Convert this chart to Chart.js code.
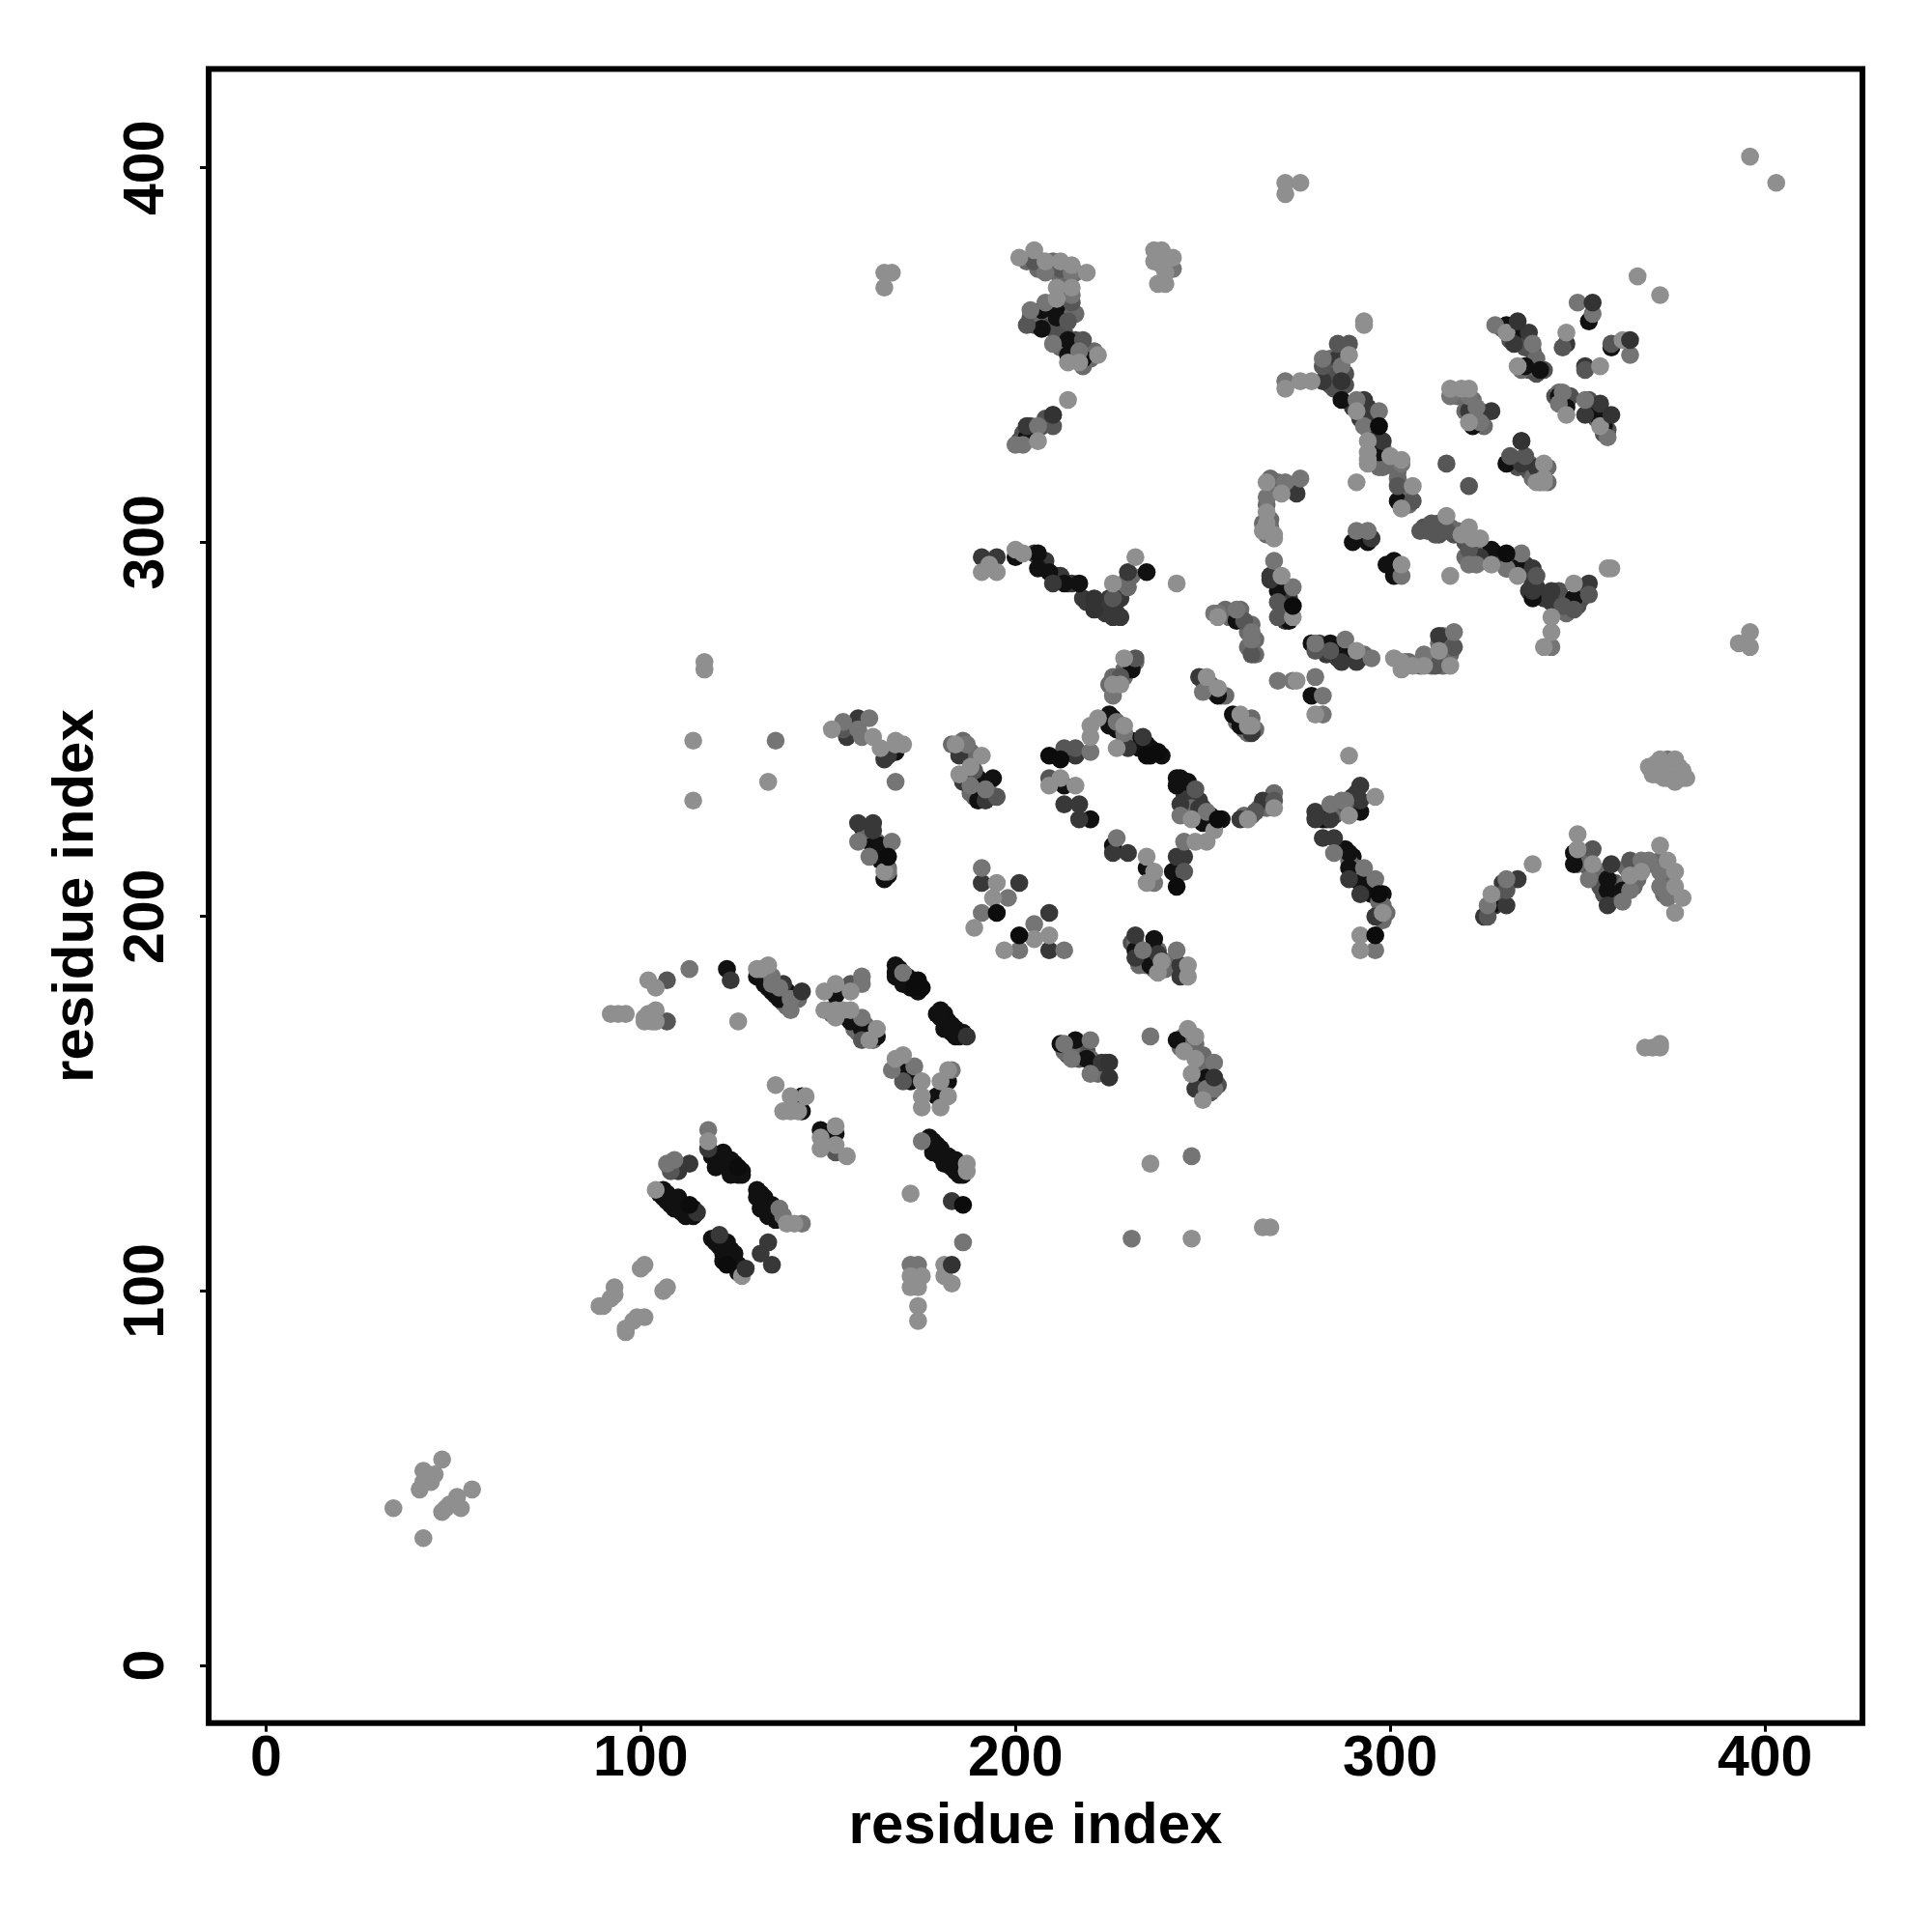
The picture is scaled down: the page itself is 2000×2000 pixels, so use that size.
<!DOCTYPE html>
<html>
<head>
<meta charset="utf-8">
<title>residue contacts</title>
<script src="https://cdn.jsdelivr.net/npm/chart.js@4/dist/chart.umd.min.js"></script>
<style>
    body { margin: 0; background: #fff; }
    canvas { display: block; }
</style>
</head>
<body>
<canvas id="contact-chart" width="2000" height="2000"></canvas>
<script>
var tickValues = [0, 100, 200, 300, 400];
var xLabel = "residue index";
var yLabel = "residue index";

// residue pairs [i, j], grouped by grey level, drawn dark to light
var blackPts = [[123,186],[133,184],[133,182],[135,180],[137,178],[139,180],[152,179],[156,172],[159,170],[163,168],[168,184],[168,187],[170,182],[180,175],[180,173],[181,170],[184,168],[169,159],[172,156],[182,156],[179,152],[178,140],[178,137],[181,134],[183,133],[186,131],[106,127],[107,126],[107,124],[110,125],[109,122],[112,120],[122,137],[120,133],[124,135],[124,131],[132,126],[131,125],[132,122],[134,120],[120,113],[123,113],[122,110],[125,110],[143,152],[143,148],[148,143],[152,142],[168,244],[162,219],[164,219],[164,215],[166,211],[190,237],[194,237],[190,231],[213,235],[220,226],[226,219],[235,213],[231,266],[225,254],[225,251],[235,246],[243,237],[243,235],[246,236],[250,225],[242,212],[282,226],[289,230],[292,228],[289,217],[289,213],[292,209],[349,217],[349,214],[358,210],[358,207],[362,207],[327,203],[237,194],[232,191],[236,187],[212,166],[216,167],[219,162],[243,167],[251,157],[254,259],[258,254],[260,251],[279,259],[287,338],[297,324],[302,311],[290,300],[294,300],[301,295],[299,294],[301,291],[270,287],[273,279],[279,273],[287,270],[284,273],[334,293],[338,285],[349,285],[327,298],[200,296],[206,297],[206,293],[209,292],[213,289],[217,289],[259,279],[203,328],[207,362],[207,357],[211,363],[211,360],[214,354],[214,350],[218,349],[331,358],[333,356],[336,347],[340,346],[353,359],[359,352],[322,331],[345,339],[347,336],[355,334],[357,331],[331,321],[235,292]];
var blackFill = [[105,126],[106,125],[108,125],[108,123],[109,124],[111,123],[111,121],[110,122],[112,122],[113,121],[114,120],[114,122],[119,136],[120,136],[121,135],[122,135],[123,134],[125,134],[125,132],[126,131],[127,132],[127,131],[121,134],[123,133],[131,127],[133,125],[133,123],[135,123],[135,121],[136,121],[136,119],[134,122],[137,120],[119,114],[120,114],[121,112],[122,112],[124,111],[124,109],[125,108],[126,107],[127,106],[126,105],[122,108],[123,110],[131,184],[132,184],[134,183],[134,181],[136,181],[136,179],[138,179],[168,185],[169,184],[169,186],[171,184],[171,182],[173,183],[174,181],[174,180],[172,181],[179,174],[181,174],[182,172],[182,170],[183,169],[184,170],[185,168],[186,169],[183,171],[181,172],[177,141],[179,139],[180,138],[180,136],[182,136],[182,134],[184,135],[184,132],[185,133],[185,131],[179,137],[226,253],[226,251],[227,250],[228,250],[231,247],[232,246],[233,245],[234,246],[236,245],[236,243],[237,244],[239,243],[244,237],[244,235],[245,236],[250,227],[252,227],[252,225],[253,226],[255,226],[288,218],[290,216],[290,212],[291,211],[293,210],[294,208],[295,208],[295,206],[296,207],[298,206],[159,224],[163,217],[164,217],[165,214],[165,210]];
var darkPts = [[124,183],[138,182],[183,124],[110,132],[113,134],[118,138],[121,115],[134,113],[132,110],[135,107],[158,225],[162,225],[162,223],[165,242],[166,243],[155,248],[158,253],[185,243],[186,236],[192,231],[216,243],[213,230],[217,230],[217,226],[226,217],[230,217],[230,245],[234,248],[244,230],[249,229],[245,216],[243,216],[260,226],[266,231],[280,228],[280,226],[284,226],[292,235],[292,231],[282,221],[285,221],[289,210],[292,206],[296,200],[334,210],[331,203],[359,214],[358,203],[191,209],[201,209],[209,201],[209,191],[232,195],[238,190],[232,189],[244,187],[244,184],[223,161],[253,157],[248,154],[249,264],[263,249],[191,296],[195,296],[210,289],[230,292],[226,280],[228,280],[203,331],[210,334],[268,290],[268,291],[293,338],[293,335],[298,327],[282,343],[287,343],[286,349],[275,313],[287,268],[291,268],[313,275],[331,293],[338,293],[338,287],[343,287],[343,284],[353,289],[335,327],[335,321],[339,320],[347,353],[352,334],[356,337],[352,347],[337,356],[333,353],[321,335],[327,335],[295,301],[324,296]];
var darkFill = [[205,297],[207,295],[208,295],[208,293],[211,291],[212,291],[214,289],[215,289],[218,285],[219,284],[222,283],[224,281],[225,282],[226,283],[227,281],[227,286],[228,287],[228,285],[225,285],[224,284],[280,272],[281,273],[282,272],[283,270],[285,272],[286,272],[286,269],[288,271],[289,270],[290,269],[281,227],[283,226],[285,227],[287,229],[288,229],[290,229],[290,232],[291,233],[325,298],[326,297],[328,297],[329,295],[330,296],[332,295],[332,293],[333,295],[336,294],[337,292],[338,289],[337,287],[339,288],[340,286],[341,285],[344,285],[345,284],[346,285],[344,283],[290,336],[292,337],[292,333],[294,336],[295,334],[295,332],[296,333],[296,328],[297,327],[296,326],[271,289],[272,288],[272,284],[272,282],[273,285],[272,279],[247,231],[248,232],[249,231],[250,229],[245,233],[246,233],[325,200],[328,203],[330,209],[331,208]];
var slatePts = [[107,183],[107,172],[108,132],[152,137],[156,182],[159,167],[170,156],[154,250],[189,239],[195,232],[216,245],[213,245],[209,237],[232,269],[228,264],[248,234],[245,212],[264,228],[269,231],[288,230],[354,218],[364,215],[331,207],[326,200],[205,375],[212,373],[215,364],[203,358],[210,331],[214,359],[218,354],[286,353],[289,353],[282,347],[321,315],[315,321],[306,311],[302,315],[315,303],[332,323],[336,323],[339,291],[349,282],[346,283],[353,286],[346,352],[352,346],[359,353],[321,298],[312,302],[308,303],[311,305],[280,271],[284,271],[270,284],[270,280],[317,272],[312,267],[263,270],[261,279],[226,285]];
var slateFill = [[283,346],[284,345],[284,342],[285,344],[286,346],[286,343],[285,341],[283,348],[288,345],[288,342],[285,347],[309,304],[310,303],[313,305],[313,302],[317,302],[320,300],[322,299],[332,322],[333,321],[334,320],[337,319],[338,320],[339,318],[330,357],[332,357],[332,354],[334,356],[335,354],[336,354],[336,352],[338,351],[337,346],[339,345],[341,346],[344,339],[346,338],[348,339],[347,337],[353,338],[354,336],[354,335],[355,333],[357,334],[358,330],[357,329],[348,284],[350,283],[351,285],[352,287],[345,287],[201,327],[202,329],[204,331],[204,328],[205,329],[207,331],[208,333],[209,333],[204,360],[209,359],[205,358],[208,358],[210,357],[212,358],[213,356],[213,352],[215,352],[216,354],[219,349],[231,193],[233,191],[234,189],[235,190],[236,191],[237,188],[214,165],[214,163],[216,164],[217,164],[217,162],[218,165],[219,164],[221,161],[222,160],[224,161],[224,158],[249,154],[250,156],[252,155],[252,153],[254,155],[351,216],[352,216],[353,213],[355,212],[356,210],[356,208],[357,206],[359,208],[360,205],[361,206],[360,209]];
var midPts = [[113,186],[135,184],[135,182],[137,181],[140,178],[140,175],[159,184],[159,182],[159,173],[170,185],[173,160],[167,159],[183,159],[175,140],[186,113],[172,107],[174,107],[107,134],[109,135],[118,143],[137,122],[138,120],[143,118],[136,247],[168,236],[154,252],[158,250],[159,248],[161,253],[158,220],[167,220],[161,216],[166,212],[187,246],[192,234],[188,235],[191,213],[198,205],[191,201],[205,198],[201,191],[213,191],[243,191],[234,191],[220,158],[215,162],[220,167],[213,166],[236,168],[253,161],[253,154],[251,154],[247,136],[231,114],[220,244],[227,221],[229,249],[237,209],[226,259],[227,252],[244,227],[245,220],[251,228],[284,230],[287,231],[288,231],[285,217],[293,213],[296,210],[296,191],[331,210],[326,203],[353,210],[364,207],[362,204],[367,215],[369,215],[372,212],[372,208],[374,205],[374,242],[242,373],[202,326],[200,326],[206,331],[204,362],[208,364],[210,353],[217,351],[215,366],[215,372],[208,372],[282,349],[287,347],[272,343],[291,338],[297,335],[293,331],[267,312],[272,316],[276,317],[269,295],[274,288],[263,274],[263,276],[254,281],[250,260],[253,281],[259,282],[270,263],[274,263],[280,264],[282,259],[282,254],[280,273],[288,274],[295,269],[317,276],[309,270],[335,297],[331,293],[321,294],[323,294],[343,272],[328,358],[338,353],[350,364],[354,361],[364,350],[323,336],[324,332],[358,328],[345,337],[346,340],[352,338],[316,339],[321,339],[291,303],[294,303],[303,291],[303,321]];
var midFill = [[203,375],[205,376],[206,373],[207,375],[209,373],[210,375],[211,372],[213,374],[213,371],[214,370],[216,372],[212,368],[213,366],[214,366],[212,364],[209,362],[206,361],[213,361],[216,361],[212,352],[216,349],[218,347],[221,351],[219,351],[220,349],[233,189],[232,193],[235,187],[238,187],[240,186],[240,188],[238,191],[239,186],[233,187],[237,186],[244,165],[245,168],[246,168],[246,166],[247,167],[248,166],[249,161],[250,163],[251,160],[249,159],[250,158],[213,164],[215,165],[220,162],[222,158],[350,214],[353,217],[363,209],[365,208],[363,213],[366,214],[366,210],[368,214],[370,214],[372,215],[373,213],[373,210],[373,206],[375,210],[375,206],[371,214],[365,212],[357,212],[328,205],[183,246],[186,247],[186,244],[188,244],[187,238],[187,236],[189,237],[189,235],[191,236],[191,232],[189,232],[193,232],[188,233],[193,236],[256,282],[258,281],[260,282],[260,280],[262,276],[263,278],[262,272],[264,274],[264,270],[257,280],[250,263],[252,262],[253,260],[255,259],[256,259],[259,252],[261,253],[261,250],[262,249],[264,250],[263,253],[261,227],[263,227],[265,229],[267,229],[268,230],[269,233],[225,262],[226,264],[227,263],[229,266],[230,267],[232,268],[229,264],[229,289],[230,288],[231,291],[230,290],[272,282],[271,282],[273,281],[292,269],[293,270],[287,272],[284,228],[286,228],[298,325],[299,322],[298,320],[297,320],[301,322],[302,319],[302,317],[303,315],[304,313],[304,311],[303,312],[305,310],[284,349],[311,303],[316,304],[318,303],[320,302],[323,300],[322,296],[320,296],[325,295],[317,340],[318,339],[320,340],[322,338],[322,336],[324,335],[323,333],[325,331],[320,335],[334,322],[337,321],[340,318],[340,316],[338,317],[342,320],[342,316],[339,349],[338,347],[335,346],[345,340],[356,335],[347,281],[313,273],[314,275],[316,275],[315,272],[313,269],[315,268],[314,267],[311,267],[310,268],[308,267],[316,270],[304,268],[305,268],[268,317],[269,316],[270,316],[268,313],[267,310],[268,306],[266,305],[268,304],[267,302],[247,229],[249,226],[253,224],[150,175],[151,174],[153,174],[155,173],[157,172],[157,170],[158,171],[158,169],[160,171],[160,168],[162,169],[162,167],[161,169],[160,222],[161,220],[163,220],[166,213],[229,247],[138,177],[140,177],[141,179],[142,178],[139,176],[289,215],[291,213],[297,204],[298,203],[297,201],[299,201],[298,199]];
var lightPts = [[92,174],[94,174],[96,174],[101,173],[101,172],[102,174],[104,175],[103,172],[104,172],[102,183],[104,181],[126,172],[132,186],[134,187],[131,186],[149,180],[152,182],[156,180],[149,175],[152,175],[152,173],[154,175],[156,175],[161,167],[163,170],[170,163],[168,162],[175,156],[175,152],[175,149],[180,156],[182,159],[182,152],[180,149],[187,134],[187,132],[172,126],[172,104],[172,101],[174,101],[175,104],[174,96],[174,92],[181,107],[181,104],[183,102],[104,127],[118,140],[139,118],[141,118],[127,104],[136,155],[140,152],[144,152],[138,148],[140,148],[142,148],[148,141],[148,138],[152,144],[152,139],[155,136],[34,42],[42,34],[47,55],[45,51],[44,49],[42,49],[41,47],[55,47],[51,45],[49,43],[48,42],[47,41],[42,52],[52,42],[101,107],[100,106],[107,101],[106,100],[93,101],[93,99],[92,98],[89,96],[90,96],[101,93],[99,93],[98,92],[96,89],[96,90],[117,268],[117,266],[114,247],[134,236],[114,231],[151,250],[162,248],[164,245],[168,247],[170,246],[168,246],[165,212],[184,246],[191,243],[185,238],[188,240],[195,209],[194,205],[189,197],[205,194],[209,195],[197,191],[248,168],[246,170],[245,164],[248,162],[247,158],[250,151],[239,188],[238,185],[246,187],[246,184],[236,134],[247,114],[266,117],[268,117],[220,248],[220,251],[222,253],[212,237],[216,235],[209,235],[235,216],[237,212],[235,209],[229,269],[226,262],[228,262],[229,251],[227,245],[253,223],[251,220],[248,220],[247,226],[262,226],[269,229],[289,227],[296,232],[289,243],[298,201],[292,195],[292,191],[327,206],[338,214],[350,222],[350,218],[354,214],[364,211],[367,212],[372,219],[374,215],[376,212],[376,208],[378,205],[376,201],[369,240],[370,238],[372,242],[376,242],[377,240],[378,237],[374,237],[372,240],[376,238],[368,165],[370,165],[372,165],[372,166],[201,376],[205,378],[208,375],[212,375],[215,374],[219,372],[211,368],[215,368],[211,365],[214,338],[206,327],[222,350],[217,348],[214,348],[237,378],[239,378],[237,375],[242,376],[240,372],[238,369],[240,369],[239,374],[293,359],[293,358],[289,350],[279,343],[276,343],[272,341],[291,335],[294,327],[294,324],[294,321],[300,323],[303,322],[294,322],[291,316],[306,315],[303,309],[315,307],[319,302],[322,301],[324,301],[321,304],[327,294],[316,291],[334,291],[349,289],[343,280],[343,276],[341,272],[358,293],[359,293],[303,294],[267,316],[271,313],[267,308],[266,303],[269,302],[269,301],[267,305],[271,291],[274,280],[254,280],[251,264],[254,261],[260,254],[263,251],[262,251],[275,263],[280,254],[191,292],[195,292],[193,294],[200,298],[202,297],[226,289],[232,296],[243,289],[313,271],[316,267],[301,269],[303,268],[303,266],[306,267],[309,267],[291,271],[366,371],[372,366],[396,403],[403,396],[272,396],[272,393],[276,396],[165,372],[165,368],[167,372],[393,273],[396,276],[396,272],[347,356],[331,356],[334,347],[356,347],[362,354],[347,334],[356,331],[316,341],[319,341],[321,341],[321,332],[341,321],[341,317],[339,316],[341,316],[371,241],[373,241],[375,240],[375,238],[373,237],[371,238],[377,238],[379,237],[376,236],[378,239]];
// the few dark marks that sit over the lighter ones
var topDark = [[187,168],[115,121],[128,106],[143,180],[183,107],[354,364],[364,354],[359,334],[334,359],[221,282],[221,285],[225,161],[225,157],[253,157],[335,327],[210,334],[287,343]];
var topBlack = [[186,123],[254,226],[297,206],[166,216],[175,181],[173,181],[174,183],[331,297],[297,331],[274,283],[209,243],[212,242],[238,244],[235,243],[113,123],[126,133],[195,201],[201,195],[296,195],[243,208],[123,107]];

function pointSet(pts, color) {
    return {
        data: pts.map(function (p) { return { x: p[0], y: p[1] }; }),
        backgroundColor: color,
        borderWidth: 0,
        pointRadius: 9.3,
        pointHoverRadius: 9.3
    };
}

// box round the plot, chart.js only draws the left and bottom border
var plotBox = {
    id: 'plotBox',
    afterDraw: function (chart) {
        var a = chart.chartArea, ctx = chart.ctx;
        ctx.save();
        ctx.strokeStyle = '#000';
        ctx.lineWidth = 6;
        ctx.strokeRect(a.left, a.top, a.right - a.left, a.bottom - a.top);
        ctx.restore();
    }
};

function axis(min, max, title, titlePad, extra) {
    var conf = {
        type: 'linear',
        min: min,
        max: max,
        afterBuildTicks: function (scale) {
            scale.ticks = tickValues.map(function (v) { return { value: v }; });
        },
        grid: { drawOnChartArea: false, drawTicks: true, tickLength: 9, tickWidth: 3, tickColor: '#000' },
        border: { display: false },
        title: {
            display: true,
            text: title,
            color: '#000',
            font: { family: 'Liberation Sans', size: 60, weight: 'bold' },
            padding: titlePad
        },
        ticks: {
            autoSkip: false,
            color: '#000',
            font: { family: 'Liberation Sans', size: 59, weight: 'bold' }
        }
    };
    return Object.assign(conf, extra);
}

var xAxis = axis(-15.3, 426, xLabel, { top: 0, bottom: 73 }, {
    afterFit: function (scale) { scale.height = 2000 - 1783.7; }
});
xAxis.ticks.maxRotation = 0;
xAxis.ticks.minRotation = 0;
xAxis.ticks.padding = -6;

var yAxis = axis(-15.4, 426.4, yLabel, { top: 43, bottom: 0 }, {
    afterFit: function (scale) { scale.width = 216; }
});
yAxis.ticks.minRotation = 90;
yAxis.ticks.maxRotation = 90;
yAxis.ticks.crossAlign = 'center';
yAxis.ticks.padding = 5;

new Chart(document.getElementById('contact-chart').getContext('2d'), {
    type: 'scatter',
    data: {
        // first dataset ends up on top
        datasets: [
            pointSet(topBlack, '#0c0c0c'),
            pointSet(topDark, '#333333'),
            pointSet(lightPts, '#8f8f8f'),
            pointSet(midPts, '#757575'),
            pointSet(slatePts, '#565656'),
            pointSet(darkPts, '#383838'),
            pointSet(blackPts, '#111111'),
            pointSet(midFill, '#6a6a6a'),
            pointSet(slateFill, '#505050'),
            pointSet(darkFill, '#383838'),
            pointSet(blackFill, '#111111')
        ]
    },
    options: {
        responsive: false,
        animation: false,
        layout: { padding: { left: 0, top: 71.4, right: 72, bottom: 0 } },
        plugins: { legend: { display: false }, tooltip: { enabled: false } },
        scales: { x: xAxis, y: yAxis }
    },
    plugins: [plotBox]
});
</script>
</body>
</html>
